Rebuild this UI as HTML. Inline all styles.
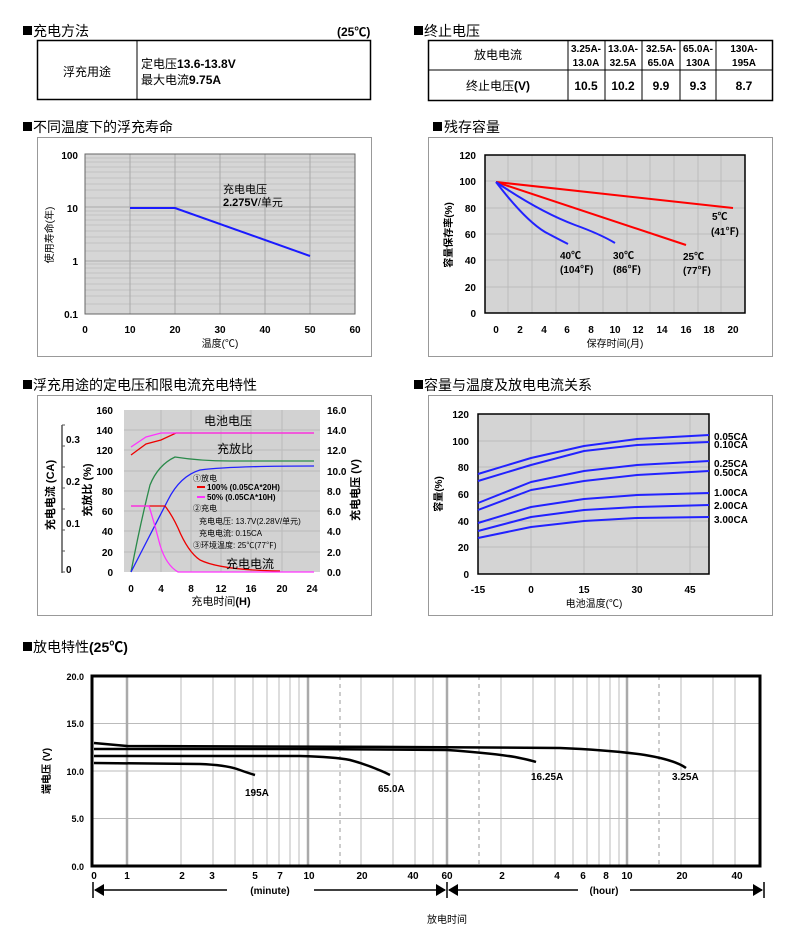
<!DOCTYPE html>
<html><head><meta charset="utf-8"><style>
html,body{margin:0;padding:0;background:#fff}
svg{display:block}
text{font-family:"Liberation Sans","Noto Sans CJK SC",sans-serif;fill:#000}
.b{font-weight:bold}
.t{font-size:14px}
.s{font-size:10px;font-weight:bold}
.m{font-size:11px}
</style></head><body>
<svg width="788" height="945" viewBox="0 0 788 945" xmlns="http://www.w3.org/2000/svg">
<!-- Section 1 -->
<rect x="23" y="26" width="9" height="9" fill="#000"/>
<text x="33" y="36" class="t">充电方法</text>
<text x="337" y="36" class="b" font-size="12">(25℃)</text>
<rect x="37.5" y="40.5" width="333" height="59" fill="none" stroke="#000" stroke-width="1.5"/>
<line x1="137" y1="40" x2="137" y2="100" stroke="#000"/>
<text x="87" y="76" font-size="12" text-anchor="middle">浮充用途</text>
<text x="141" y="68" font-size="12">定电压<tspan class="b">13.6-13.8V</tspan></text>
<text x="141" y="84" font-size="12">最大电流<tspan class="b">9.75A</tspan></text>
<!-- Section 2 -->
<rect x="414" y="26" width="9" height="9" fill="#000"/>
<text x="424" y="36" class="t">终止电压</text>
<rect x="428.5" y="40.5" width="344" height="60" fill="none" stroke="#000" stroke-width="1.5"/>
<line x1="428" y1="70" x2="773" y2="70" stroke="#000"/>
<g stroke="#000"><line x1="568" y1="40" x2="568" y2="101"/><line x1="605" y1="40" x2="605" y2="101"/><line x1="642" y1="40" x2="642" y2="101"/><line x1="680" y1="40" x2="680" y2="101"/><line x1="716" y1="40" x2="716" y2="101"/></g>
<text x="498" y="59" font-size="12" text-anchor="middle">放电电流</text>
<text x="498" y="90" font-size="12" text-anchor="middle">终止电压<tspan class="b">(V)</tspan></text>
<g font-size="10" text-anchor="middle" class="b">
<text x="586" y="52">3.25A-</text><text x="586" y="66">13.0A</text>
<text x="623" y="52">13.0A-</text><text x="623" y="66">32.5A</text>
<text x="661" y="52">32.5A-</text><text x="661" y="66">65.0A</text>
<text x="698" y="52">65.0A-</text><text x="698" y="66">130A</text>
<text x="744" y="52">130A-</text><text x="744" y="66">195A</text>
</g>
<g font-size="12" text-anchor="middle" class="b">
<text x="586" y="90">10.5</text><text x="623" y="90">10.2</text><text x="661" y="90">9.9</text><text x="698" y="90">9.3</text><text x="744" y="90">8.7</text>
</g>
<!-- Section 3 -->
<rect x="23" y="122" width="9" height="9" fill="#000"/>
<text x="33" y="132" class="t">不同温度下的浮充寿命</text>
<rect x="37.5" y="137.5" width="334" height="219" fill="none" stroke="#999"/>
<rect x="85" y="154" width="270" height="160" fill="#d6d6d6"/>
<g stroke="#bbb" stroke-width="0.7">
<line x1="85" x2="355" y1="198" y2="198"/><line x1="85" x2="355" y1="190" y2="190"/><line x1="85" x2="355" y1="184" y2="184"/><line x1="85" x2="355" y1="178" y2="178"/><line x1="85" x2="355" y1="172" y2="172"/><line x1="85" x2="355" y1="167" y2="167"/><line x1="85" x2="355" y1="162" y2="162"/><line x1="85" x2="355" y1="158" y2="158"/>
<line x1="85" x2="355" y1="251" y2="251"/><line x1="85" x2="355" y1="243" y2="243"/><line x1="85" x2="355" y1="237" y2="237"/><line x1="85" x2="355" y1="231" y2="231"/><line x1="85" x2="355" y1="225" y2="225"/><line x1="85" x2="355" y1="220" y2="220"/><line x1="85" x2="355" y1="215" y2="215"/><line x1="85" x2="355" y1="211" y2="211"/>
<line x1="85" x2="355" y1="304" y2="304"/><line x1="85" x2="355" y1="296" y2="296"/><line x1="85" x2="355" y1="290" y2="290"/><line x1="85" x2="355" y1="284" y2="284"/><line x1="85" x2="355" y1="278" y2="278"/><line x1="85" x2="355" y1="273" y2="273"/><line x1="85" x2="355" y1="268" y2="268"/><line x1="85" x2="355" y1="264" y2="264"/>
</g>
<g stroke="#aaa"><line x1="85" x2="355" y1="207" y2="207"/><line x1="85" x2="355" y1="261" y2="261"/>
<line x1="130" x2="130" y1="154" y2="314"/><line x1="175" x2="175" y1="154" y2="314"/><line x1="220" x2="220" y1="154" y2="314"/><line x1="265" x2="265" y1="154" y2="314"/><line x1="310" x2="310" y1="154" y2="314"/></g>
<rect x="85" y="154" width="270" height="160" fill="none" stroke="#666"/>
<polyline points="130,208 175,208 310,256" fill="none" stroke="#1a1aff" stroke-width="2"/>
<text x="223" y="193" font-size="11">充电电压</text>
<text x="223" y="206" font-size="11"><tspan class="b">2.275V</tspan>/单元</text>
<g class="s" text-anchor="end"><text x="78" y="159">100</text><text x="78" y="212">10</text><text x="78" y="265">1</text><text x="78" y="318">0.1</text></g>
<g class="s" text-anchor="middle"><text x="85" y="333">0</text><text x="130" y="333">10</text><text x="175" y="333">20</text><text x="220" y="333">30</text><text x="265" y="333">40</text><text x="310" y="333">50</text><text x="355" y="333">60</text></g>
<text x="220" y="347" font-size="10" text-anchor="middle">温度(℃)</text>
<text transform="translate(53,235) rotate(-90)" font-size="10" text-anchor="middle">使用寿命(年)</text>
<!-- Section 4 -->
<rect x="433" y="122" width="9" height="9" fill="#000"/>
<text x="444" y="132" class="t">残存容量</text>
<rect x="428.5" y="137.5" width="344" height="219" fill="none" stroke="#999"/>
<rect x="485" y="155" width="260" height="158" fill="#d4d4d4"/>
<g stroke="#bbb"><line x1="485" x2="745" y1="181" y2="181"/><line x1="485" x2="745" y1="208" y2="208"/><line x1="485" x2="745" y1="234" y2="234"/><line x1="485" x2="745" y1="260" y2="260"/><line x1="485" x2="745" y1="287" y2="287"/>
<line x1="508" x2="508" y1="155" y2="313"/><line x1="532" x2="532" y1="155" y2="313"/><line x1="556" x2="556" y1="155" y2="313"/><line x1="579" x2="579" y1="155" y2="313"/><line x1="603" x2="603" y1="155" y2="313"/><line x1="627" x2="627" y1="155" y2="313"/><line x1="650" x2="650" y1="155" y2="313"/><line x1="674" x2="674" y1="155" y2="313"/><line x1="698" x2="698" y1="155" y2="313"/><line x1="721" x2="721" y1="155" y2="313"/></g>
<rect x="485" y="155" width="260" height="158" fill="none" stroke="#000" stroke-width="1.5"/>
<g fill="none" stroke-width="2">
<line x1="496" y1="182" x2="733" y2="208" stroke="#f00"/>
<line x1="496" y1="182" x2="686" y2="245" stroke="#f00"/>
<path d="M496,182 Q540,212 575,225 Q600,234 615,243" stroke="#22f"/>
<path d="M496,182 Q525,220 545,232 Q560,240 568,244" stroke="#22f"/>
</g>
<g class="s"><text x="712" y="220">5℃</text><text x="711" y="235">(41℉)</text>
<text x="683" y="260">25℃</text><text x="683" y="274">(77℉)</text>
<text x="613" y="259">30℃</text><text x="613" y="273">(86℉)</text>
<text x="560" y="259">40℃</text><text x="560" y="273">(104℉)</text></g>
<g class="s" text-anchor="end"><text x="476" y="159">120</text><text x="476" y="185">100</text><text x="476" y="212">80</text><text x="476" y="238">60</text><text x="476" y="264">40</text><text x="476" y="291">20</text><text x="476" y="317">0</text></g>
<g class="s" text-anchor="middle"><text x="496" y="333">0</text><text x="520" y="333">2</text><text x="544" y="333">4</text><text x="567" y="333">6</text><text x="591" y="333">8</text><text x="615" y="333">10</text><text x="638" y="333">12</text><text x="662" y="333">14</text><text x="686" y="333">16</text><text x="709" y="333">18</text><text x="733" y="333">20</text></g>
<text x="615" y="347" font-size="10" text-anchor="middle">保存时间(月)</text>
<text transform="translate(452,235) rotate(-90)" font-size="10" class="b" text-anchor="middle">容量保存率(%)</text>
<!-- Section 5 -->
<rect x="23" y="380" width="9" height="9" fill="#000"/>
<text x="33" y="390" class="t">浮充用途的定电压和限电流充电特性</text>
<rect x="37.5" y="395.5" width="334" height="220" fill="none" stroke="#999"/>
<rect x="124" y="410" width="196" height="162" fill="#d2d2d2"/>
<g stroke="#bbb"><line x1="124" x2="320" y1="430" y2="430"/><line x1="124" x2="320" y1="450" y2="450"/><line x1="124" x2="320" y1="471" y2="471"/><line x1="124" x2="320" y1="491" y2="491"/><line x1="124" x2="320" y1="511" y2="511"/><line x1="124" x2="320" y1="531" y2="531"/><line x1="124" x2="320" y1="552" y2="552"/>
<line x1="161" x2="161" y1="410" y2="572"/><line x1="191" x2="191" y1="410" y2="572"/><line x1="221" x2="221" y1="410" y2="572"/><line x1="251" x2="251" y1="410" y2="572"/><line x1="282" x2="282" y1="410" y2="572"/></g>
<g fill="none" stroke-width="1.3">
<path d="M131,572 Q140,525 150,485 Q158,465 175,457 Q200,461 230,461 L314,461" stroke="#2a8a4a"/>
<path d="M131,572 L168,500 Q180,476 200,470 Q230,466 314,466" stroke="#22f"/>
<path d="M131,455 L146,444 L161,440 L176,433 L314,433" stroke="#e00"/>
<path d="M131,447 L146,437 L161,433 L314,433" stroke="#f3f"/>
<path d="M131,506 L165,506 Q172,515 178,528 Q188,552 200,560 Q220,570 280,571" stroke="#e00"/>
<path d="M131,506 L149,506 Q155,525 160,545 Q166,565 178,572 L314,572" stroke="#f3f"/>
</g>
<text x="228" y="425" font-size="12" text-anchor="middle">电池电压</text>
<text x="235" y="453" font-size="12" text-anchor="middle">充放比</text>
<text x="250" y="568" font-size="12" text-anchor="middle">充电电流</text>
<g font-size="8"><text x="193" y="481">①放电</text>
<line x1="197" x2="205" y1="487" y2="487" stroke="#e00" stroke-width="2"/><text x="207" y="490" class="b">100% (0.05CA*20H)</text>
<line x1="197" x2="205" y1="497" y2="497" stroke="#f3f" stroke-width="2"/><text x="207" y="500" class="b">50% (0.05CA*10H)</text>
<text x="193" y="511">②充电</text>
<text x="199" y="524">充电电压: 13.7V(2.28V/单元)</text>
<text x="199" y="536">充电电流: 0.15CA</text>
<text x="193" y="548">③环境温度: 25℃(77℉)</text></g>
<g class="s" text-anchor="end"><text x="113" y="414">160</text><text x="113" y="434">140</text><text x="113" y="454">120</text><text x="113" y="475">100</text><text x="113" y="495">80</text><text x="113" y="515">60</text><text x="113" y="535">40</text><text x="113" y="556">20</text><text x="113" y="576">0</text></g>
<g class="s"><text x="327" y="414">16.0</text><text x="327" y="434">14.0</text><text x="327" y="454">12.0</text><text x="327" y="475">10.0</text><text x="327" y="495">8.0</text><text x="327" y="515">6.0</text><text x="327" y="535">4.0</text><text x="327" y="556">2.0</text><text x="327" y="576">0.0</text></g>
<g class="s" text-anchor="middle"><text x="131" y="592">0</text><text x="161" y="592">4</text><text x="191" y="592">8</text><text x="221" y="592">12</text><text x="251" y="592">16</text><text x="282" y="592">20</text><text x="312" y="592">24</text></g>
<text x="221" y="605" font-size="11" text-anchor="middle">充电时间<tspan class="b">(H)</tspan></text>
<line x1="62" y1="425" x2="62" y2="573" stroke="#555" stroke-width="1.5"/>
<g stroke="#555"><line x1="62" x2="65" y1="425" y2="425"/><line x1="62" x2="65" y1="446" y2="446"/><line x1="62" x2="65" y1="467" y2="467"/><line x1="62" x2="65" y1="488" y2="488"/><line x1="62" x2="65" y1="509" y2="509"/><line x1="62" x2="65" y1="530" y2="530"/><line x1="62" x2="65" y1="551" y2="551"/><line x1="62" x2="65" y1="572" y2="572"/></g>
<g class="s"><text x="66" y="443">0.3</text><text x="66" y="485">0.2</text><text x="66" y="527">0.1</text><text x="66" y="573">0</text></g>
<text transform="translate(54,495) rotate(-90)" font-size="11" class="b" text-anchor="middle">充电电流 (CA)</text>
<text transform="translate(91,490) rotate(-90)" font-size="11" class="b" text-anchor="middle">充放比 (%)</text>
<text transform="translate(359,490) rotate(-90)" font-size="11" class="b" text-anchor="middle">充电电压 (V)</text>
<!-- Section 6 -->
<rect x="414" y="380" width="9" height="9" fill="#000"/>
<text x="424" y="390" class="t">容量与温度及放电电流关系</text>
<rect x="428.5" y="395.5" width="344" height="220" fill="none" stroke="#999"/>
<rect x="478" y="414" width="231" height="160" fill="#d4d4d4"/>
<g stroke="#bbb"><line x1="478" x2="709" y1="441" y2="441"/><line x1="478" x2="709" y1="467" y2="467"/><line x1="478" x2="709" y1="494" y2="494"/><line x1="478" x2="709" y1="521" y2="521"/><line x1="478" x2="709" y1="547" y2="547"/>
<line x1="531" x2="531" y1="414" y2="574"/><line x1="584" x2="584" y1="414" y2="574"/><line x1="637" x2="637" y1="414" y2="574"/><line x1="690" x2="690" y1="414" y2="574"/></g>
<rect x="478" y="414" width="231" height="160" fill="none" stroke="#000" stroke-width="1.5"/>
<g fill="none" stroke="#22f" stroke-width="2" stroke-linejoin="round">
<polyline points="478,474 531,458 584,446 637,439 709,435"/>
<polyline points="478,481 531,465 584,451 637,445 709,442"/>
<polyline points="478,503 531,482 584,471 637,465 709,461"/>
<polyline points="478,510 531,490 584,481 637,475 709,471"/>
<polyline points="478,523 531,507 584,499 637,495 709,493"/>
<polyline points="478,531 531,517 584,510 637,507 709,505"/>
<polyline points="478,538 531,527 584,521 637,518 709,517"/>
</g>
<g class="s"><text x="714" y="440">0.05CA</text><text x="714" y="448">0.10CA</text><text x="714" y="467">0.25CA</text><text x="714" y="476">0.50CA</text><text x="714" y="496">1.00CA</text><text x="714" y="509">2.00CA</text><text x="714" y="523">3.00CA</text></g>
<g class="s" text-anchor="end"><text x="469" y="418">120</text><text x="469" y="445">100</text><text x="469" y="471">80</text><text x="469" y="498">60</text><text x="469" y="525">40</text><text x="469" y="551">20</text><text x="469" y="578">0</text></g>
<g class="s" text-anchor="middle"><text x="478" y="593">-15</text><text x="531" y="593">0</text><text x="584" y="593">15</text><text x="637" y="593">30</text><text x="690" y="593">45</text></g>
<text x="594" y="607" font-size="10" text-anchor="middle">电池温度(℃)</text>
<text transform="translate(442,494) rotate(-90)" font-size="10" class="b" text-anchor="middle">容量(%)</text>
<!-- Section 7 -->
<rect x="23" y="642" width="9" height="9" fill="#000"/>
<text x="33" y="652" class="t">放电特性<tspan class="b">(25℃)</tspan></text>
<g stroke="#bbb"><line x1="92" x2="760" y1="723.5" y2="723.5"/><line x1="92" x2="760" y1="771" y2="771"/><line x1="92" x2="760" y1="818.5" y2="818.5"/>
<line x1="181" x2="181" y1="676" y2="866"/><line x1="213" x2="213" y1="676" y2="866"/><line x1="235" x2="235" y1="676" y2="866"/><line x1="253" x2="253" y1="676" y2="866"/><line x1="267" x2="267" y1="676" y2="866"/><line x1="279" x2="279" y1="676" y2="866"/><line x1="290" x2="290" y1="676" y2="866"/><line x1="299" x2="299" y1="676" y2="866"/><line x1="361" x2="361" y1="676" y2="866"/><line x1="393" x2="393" y1="676" y2="866"/><line x1="415" x2="415" y1="676" y2="866"/><line x1="433" x2="433" y1="676" y2="866"/>
<line x1="501" x2="501" y1="676" y2="866"/><line x1="533" x2="533" y1="676" y2="866"/><line x1="555" x2="555" y1="676" y2="866"/><line x1="573" x2="573" y1="676" y2="866"/><line x1="587" x2="587" y1="676" y2="866"/><line x1="599" x2="599" y1="676" y2="866"/><line x1="610" x2="610" y1="676" y2="866"/><line x1="619" x2="619" y1="676" y2="866"/><line x1="681" x2="681" y1="676" y2="866"/><line x1="713" x2="713" y1="676" y2="866"/><line x1="735" x2="735" y1="676" y2="866"/></g>
<g stroke="#aaa" stroke-width="2.5"><line x1="127" x2="127" y1="676" y2="866"/><line x1="308" x2="308" y1="676" y2="866"/><line x1="447" x2="447" y1="676" y2="866"/><line x1="627" x2="627" y1="676" y2="866"/></g>
<g stroke="#999" stroke-dasharray="4,4"><line x1="340" x2="340" y1="676" y2="866"/><line x1="479" x2="479" y1="676" y2="866"/><line x1="659" x2="659" y1="676" y2="866"/></g>
<rect x="92" y="676" width="668" height="190" fill="none" stroke="#000" stroke-width="3"/>
<g fill="none" stroke="#000" stroke-width="2.5">
<path d="M94,743 L127,746 L400,747 L560,748 Q610,750 645,755 Q675,760 686,768"/>
<path d="M94,749 L300,749 L447,750 Q490,753 515,757 Q530,760 536,762"/>
<path d="M94,756 L300,756 Q335,757 350,760 Q372,766 390,775"/>
<path d="M94,763 L200,764 Q225,765 237,769 Q248,773 255,775"/>
</g>
<g class="s"><text x="245" y="796">195A</text><text x="378" y="792">65.0A</text><text x="531" y="780">16.25A</text><text x="672" y="780">3.25A</text></g>
<g font-size="9" class="b" text-anchor="end"><text x="84" y="680">20.0</text><text x="84" y="727">15.0</text><text x="84" y="775">10.0</text><text x="84" y="822">5.0</text><text x="84" y="870">0.0</text></g>
<g class="s" text-anchor="middle"><text x="94" y="879">0</text><text x="127" y="879">1</text><text x="182" y="879">2</text><text x="212" y="879">3</text><text x="255" y="879">5</text><text x="280" y="879">7</text><text x="309" y="879">10</text><text x="362" y="879">20</text><text x="413" y="879">40</text><text x="447" y="879">60</text><text x="502" y="879">2</text><text x="557" y="879">4</text><text x="583" y="879">6</text><text x="606" y="879">8</text><text x="627" y="879">10</text><text x="682" y="879">20</text><text x="737" y="879">40</text></g>
<g stroke="#000" stroke-width="1.5">
<line x1="93" x2="93" y1="882" y2="898"/><line x1="447" x2="447" y1="882" y2="898"/><line x1="764" x2="764" y1="882" y2="898"/>
<line x1="95" x2="227" y1="890" y2="890"/><line x1="314" x2="445" y1="890" y2="890"/><line x1="449" x2="578" y1="890" y2="890"/><line x1="630" x2="762" y1="890" y2="890"/>
</g>
<g fill="#000"><polygon points="94,890 104,884 104,896"/><polygon points="446,890 436,884 436,896"/><polygon points="448,890 458,884 458,896"/><polygon points="763,890 753,884 753,896"/></g>
<text x="270" y="894" class="s" text-anchor="middle">(minute)</text>
<text x="604" y="894" class="s" text-anchor="middle">(hour)</text>
<text x="447" y="923" font-size="10" text-anchor="middle">放电时间</text>
<text transform="translate(50,771) rotate(-90)" font-size="10" class="b" text-anchor="middle">端电压 (V)</text>
</svg>
</body></html>
